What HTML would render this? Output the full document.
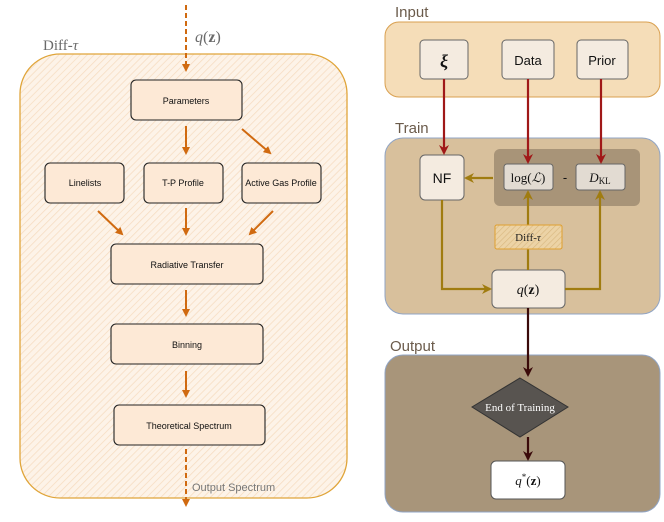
<!DOCTYPE html>
<html><head><meta charset="utf-8"><style>
body{margin:0;background:#fff}
svg{display:block}
.s{font-family:"Liberation Sans",sans-serif}
.r{font-family:"Liberation Serif",serif}
</style></head><body>
<svg width="664" height="522" viewBox="0 0 664 522" xmlns="http://www.w3.org/2000/svg">
<defs>
<pattern id="h" width="5" height="5" patternUnits="userSpaceOnUse" patternTransform="rotate(45)">
<rect width="5" height="5" fill="#fdf3e8"/><line x1="0" y1="0" x2="0" y2="5" stroke="#f6dcc0" stroke-width="1.5"/></pattern>
<pattern id="h2" width="4" height="4" patternUnits="userSpaceOnUse" patternTransform="rotate(45)">
<rect width="4" height="4" fill="#ecd3a6"/><line x1="0" y1="0" x2="0" y2="4" stroke="#d9b880" stroke-width="1.3"/></pattern>
<marker id="o" markerWidth="8" markerHeight="8" refX="6" refY="4" orient="auto" markerUnits="userSpaceOnUse"><path d="M0,0 L8,4 L0,8 z" fill="#d06a10"/></marker>
<marker id="rd" markerWidth="10" markerHeight="10" refX="8" refY="5" orient="auto" markerUnits="userSpaceOnUse"><path d="M0,0 L10,5 L0,10 L3,5 z" fill="#a01818"/></marker>
<marker id="g" markerWidth="10" markerHeight="10" refX="8" refY="5" orient="auto" markerUnits="userSpaceOnUse"><path d="M0,0 L10,5 L0,10 L3,5 z" fill="#a07c10"/></marker>
<marker id="b" markerWidth="10" markerHeight="10" refX="8" refY="5" orient="auto" markerUnits="userSpaceOnUse"><path d="M0,0 L10,5 L0,10 L3,5 z" fill="#3a0a0a"/></marker>
</defs>
<!-- left -->
<rect x="20" y="54" width="327" height="444" rx="40" fill="url(#h)" stroke="#e0a53a" stroke-width="1.3"/>
<text x="43" y="50" class="r" font-size="15" fill="#6a6a6a">Diff-<tspan font-style="italic">τ</tspan></text>
<text x="195" y="42" class="r" font-size="16" fill="#6a6a6a" font-style="italic">q<tspan font-style="normal">(</tspan><tspan font-weight="bold" font-style="normal">z</tspan><tspan font-style="normal">)</tspan></text>
<g stroke="#d06a10" stroke-width="2" fill="none">
<line x1="186" y1="5" x2="186" y2="70" stroke-dasharray="5,3" marker-end="url(#o)"/>
<line x1="186" y1="126" x2="186" y2="153" marker-end="url(#o)"/>
<line x1="242" y1="129" x2="270" y2="153" marker-end="url(#o)"/>
<line x1="98" y1="211" x2="122" y2="234" marker-end="url(#o)"/>
<line x1="186" y1="208" x2="186" y2="234" marker-end="url(#o)"/>
<line x1="273" y1="211" x2="250" y2="234" marker-end="url(#o)"/>
<line x1="186" y1="290" x2="186" y2="315" marker-end="url(#o)"/>
<line x1="186" y1="371" x2="186" y2="396" marker-end="url(#o)"/>
<line x1="186" y1="449" x2="186" y2="505" stroke-dasharray="5,3" marker-end="url(#o)"/>
</g>
<g fill="#fde9d6" stroke="#222" stroke-width="1.1">
<rect x="131" y="80" width="111" height="40" rx="5"/>
<rect x="45" y="163" width="79" height="40" rx="5"/>
<rect x="144" y="163" width="79" height="40" rx="5"/>
<rect x="242" y="163" width="79" height="40" rx="5"/>
<rect x="111" y="244" width="152" height="40" rx="5"/>
<rect x="111" y="324" width="152" height="40" rx="5"/>
<rect x="114" y="405" width="151" height="40" rx="5"/>
</g>
<g class="s" font-size="9" fill="#111" text-anchor="middle">
<text x="186" y="104">Parameters</text>
<text x="85" y="186">Linelists</text>
<text x="183" y="186">T-P Profile</text>
<text x="281" y="186">Active Gas Profile</text>
<text x="187" y="268">Radiative Transfer</text>
<text x="187" y="348">Binning</text>
<text x="189" y="429">Theoretical Spectrum</text>
</g>
<text x="192" y="491" class="s" font-size="11" fill="#777">Output Spectrum</text>
<!-- right -->
<text x="395" y="17" class="s" font-size="15" fill="#6b5b4b">Input</text>
<text x="395" y="133" class="s" font-size="15" fill="#6b5b4b">Train</text>
<text x="390" y="351" class="s" font-size="15" fill="#6b5b4b">Output</text>
<rect x="385" y="22" width="275" height="75" rx="14" fill="#f5ddb8" stroke="#d9a050"/>
<rect x="385" y="138" width="275" height="176" rx="18" fill="#d8c09c" stroke="#90a4c4"/>
<rect x="385" y="355" width="275" height="157" rx="18" fill="#a8957a" stroke="#90a4c4"/>
<rect x="494" y="149" width="146" height="57" rx="6" fill="#a89478"/>
<g fill="#f4ebe0" stroke="#666" stroke-width="1">
<rect x="420" y="40" width="48" height="39" rx="4"/>
<rect x="502" y="40" width="52" height="39" rx="4"/>
<rect x="577" y="40" width="51" height="39" rx="4"/>
<rect x="420" y="155" width="44" height="45" rx="5"/>
<rect x="504" y="164" width="49" height="26" rx="3" fill="#e2dbd2"/>
<rect x="576" y="164" width="49" height="26" rx="3" fill="#e2dbd2"/>
<rect x="492" y="270" width="73" height="38" rx="5"/>
</g>
<rect x="495" y="225" width="67" height="24" rx="2" fill="url(#h2)" stroke="#e0a030"/>
<g stroke-width="2.2" fill="none">
<line x1="444" y1="79" x2="444" y2="153" stroke="#a01818" marker-end="url(#rd)"/>
<line x1="528" y1="79" x2="528" y2="162" stroke="#a01818" marker-end="url(#rd)"/>
<line x1="601" y1="79" x2="601" y2="162" stroke="#a01818" marker-end="url(#rd)"/>
<line x1="493" y1="178" x2="466" y2="178" stroke="#a07c10" marker-end="url(#g)"/>
<path d="M442,200 V289 H490" stroke="#a07c10" marker-end="url(#g)"/>
<line x1="528" y1="270" x2="528" y2="192" stroke="#a07c10" marker-end="url(#g)"/>
<path d="M565,289 H600 V192" stroke="#a07c10" marker-end="url(#g)"/>
<line x1="528" y1="308" x2="528" y2="375" stroke="#3a0a0a" marker-end="url(#b)"/>
<line x1="528" y1="437" x2="528" y2="459" stroke="#3a0a0a" marker-end="url(#b)"/>
</g>
<rect x="495" y="225" width="67" height="24" rx="2" fill="url(#h2)" stroke="#e0a030"/>
<polygon points="520,378 568,407 520,437 472,407" fill="#585450" stroke="#333"/>
<rect x="491" y="461" width="74" height="38" rx="5" fill="#fff" stroke="#555"/>
<g text-anchor="middle">
<text x="444" y="67" class="r" font-size="18" font-style="italic" font-weight="bold" fill="#111">ξ</text>
<text x="528" y="65" class="s" font-size="13" fill="#111">Data</text>
<text x="602" y="65" class="s" font-size="13" fill="#111">Prior</text>
<text x="442" y="183" class="s" font-size="14" fill="#111">NF</text>
<text x="528" y="182" class="r" font-size="13" fill="#111">log(<tspan font-style="italic">ℒ</tspan>)</text>
<text x="565" y="182" class="s" font-size="13" fill="#111">-</text>
<text x="600" y="182" class="r" font-size="13" fill="#111"><tspan font-style="italic">D</tspan><tspan font-size="9" dy="2">KL</tspan></text>
<text x="528" y="241" class="r" font-size="11" fill="#222">Diff-<tspan font-style="italic">τ</tspan></text>
<text x="528" y="294" class="r" font-size="14" fill="#111"><tspan font-style="italic">q</tspan>(<tspan font-weight="bold">z</tspan>)</text>
<text x="520" y="411" class="r" font-size="11" fill="#fff">End of Training</text>
<text x="528" y="485" class="r" font-size="13" fill="#111"><tspan font-style="italic">q</tspan><tspan font-size="9" dy="-5">*</tspan><tspan dy="5">(</tspan><tspan font-weight="bold">z</tspan>)</text>
</g>
</svg>
</body></html>
